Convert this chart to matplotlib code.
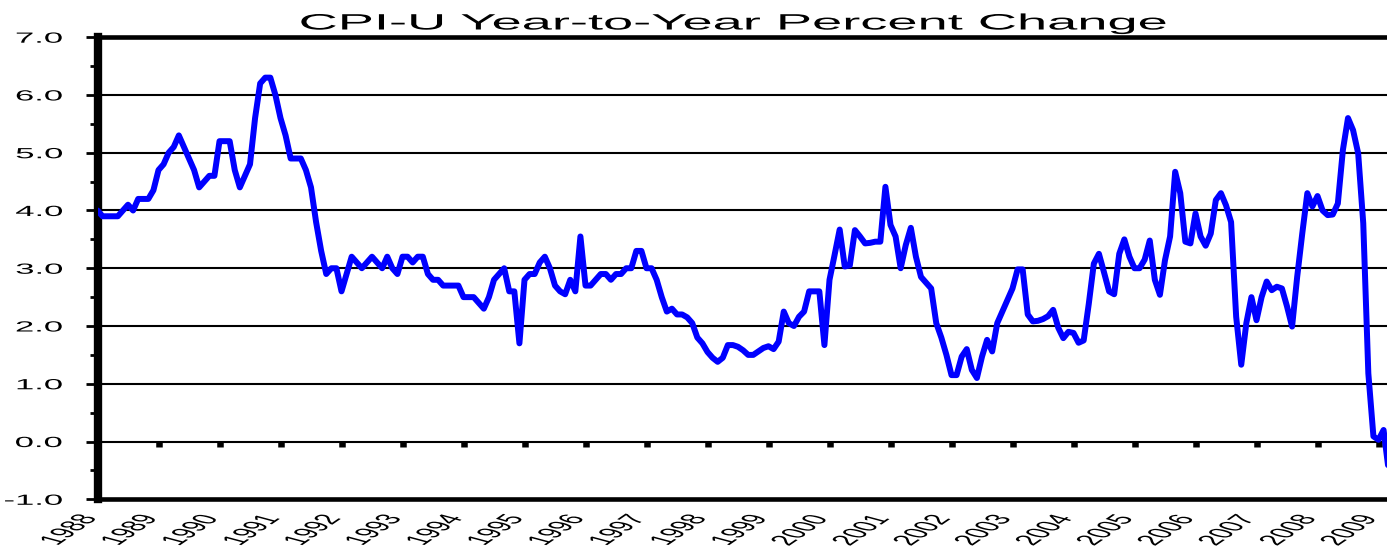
import numpy as np
import matplotlib
matplotlib.use("Agg")
import matplotlib.pyplot as plt
from matplotlib.patheffects import AbstractPathEffect
from matplotlib.transforms import Affine2D
from matplotlib.ticker import MultipleLocator

plt.rcParams['font.family'] = ['Liberation Sans', 'DejaVu Sans']

# ---- data: CPI-U year-to-year percent change, monthly from Jan 1988 ----
start_year = 1988
yoy_1988 = [4.0, 3.9, 3.9, 3.9, 3.9, 4.0, 4.1, 4.0, 4.2, 4.2, 4.2, 4.35]
yoy_1989 = [4.7, 4.8, 5.0, 5.1, 5.3, 5.1, 4.9, 4.7, 4.4, 4.5, 4.6, 4.6]
yoy_1990 = [5.2, 5.2, 5.2, 4.7, 4.4, 4.6, 4.8, 5.6, 6.2, 6.3, 6.3, 6.0]
yoy_1991 = [5.6, 5.3, 4.9, 4.9, 4.9, 4.7, 4.4, 3.8, 3.3, 2.9, 3.0, 3.0]
yoy_1992 = [2.6, 2.9, 3.2, 3.1, 3.0, 3.1, 3.2, 3.1, 3.0, 3.2, 3.0, 2.9]
yoy_1993 = [3.2, 3.2, 3.1, 3.2, 3.2, 2.9, 2.8, 2.8, 2.7, 2.7, 2.7, 2.7]
yoy_1994 = [2.5, 2.5, 2.5, 2.4, 2.3, 2.5, 2.8, 2.9, 3.0, 2.6, 2.6, 1.7]
yoy_1995 = [2.8, 2.9, 2.9, 3.1, 3.2, 3.0, 2.7, 2.6, 2.55, 2.8, 2.6, 3.55]
yoy_1996 = [2.7, 2.7, 2.8, 2.9, 2.9, 2.8, 2.9, 2.9, 3.0, 3.0, 3.3, 3.3]
yoy_1997 = [3.0, 3.0, 2.8, 2.5, 2.25, 2.3, 2.2, 2.2, 2.15, 2.05, 1.8, 1.7]
yoy_1998 = [1.55, 1.45, 1.38, 1.45, 1.67, 1.67, 1.64, 1.58, 1.5, 1.5, 1.56, 1.62]
yoy_1999 = [1.65, 1.6, 1.73, 2.25, 2.05, 2.0, 2.16, 2.25, 2.6, 2.6, 2.6, 1.67]
yoy_2000 = [2.8, 3.23, 3.67, 3.03, 3.05, 3.66, 3.55, 3.43, 3.44, 3.46, 3.46, 4.41]
yoy_2001 = [3.75, 3.55, 3.0, 3.4, 3.7, 3.2, 2.85, 2.75, 2.65, 2.05, 1.8, 1.5]
yoy_2002 = [1.15, 1.15, 1.47, 1.6, 1.24, 1.1, 1.47, 1.76, 1.56, 2.05, 2.25, 2.45]
yoy_2003 = [2.65, 2.98, 2.98, 2.2, 2.08, 2.09, 2.12, 2.17, 2.28, 1.97, 1.79, 1.9]
yoy_2004 = [1.88, 1.71, 1.75, 2.38, 3.08, 3.25, 2.93, 2.6, 2.55, 3.25, 3.5, 3.2]
yoy_2005 = [3.0, 3.0, 3.15, 3.48, 2.8, 2.54, 3.14, 3.55, 4.67, 4.3, 3.46, 3.43]
yoy_2006 = [3.95, 3.55, 3.39, 3.6, 4.18, 4.3, 4.09, 3.8, 2.16, 1.33, 2.05, 2.5]
yoy_2007 = [2.1, 2.5, 2.77, 2.62, 2.68, 2.65, 2.34, 1.99, 2.85, 3.6, 4.3, 4.07]
yoy_2008 = [4.25, 4.0, 3.92, 3.93, 4.12, 5.05, 5.6, 5.39, 4.99, 3.78, 1.18, 0.09]
yoy_2009 = [0.03, 0.2, -0.5]

year_labels = [str(y) for y in range(1988, 2010)]
y_major = [-1, 0, 1, 2, 3, 4, 5, 6, 7]
title_text = "CPI-U Year-to-Year Percent Change"

series = (yoy_1988 + yoy_1989 + yoy_1990 + yoy_1991 + yoy_1992 + yoy_1993 +
          yoy_1994 + yoy_1995 + yoy_1996 + yoy_1997 + yoy_1998 + yoy_1999 +
          yoy_2000 + yoy_2001 + yoy_2002 + yoy_2003 + yoy_2004 + yoy_2005 +
          yoy_2006 + yoy_2007 + yoy_2008 + yoy_2009)
months = start_year + np.arange(len(series)) / 12.0
years = [int(s) for s in year_labels]


class HorizontalStretch(AbstractPathEffect):
    """Draws a text widened horizontally about its own anchor point."""

    def __init__(self, text, factor, dx=0.0):
        super().__init__()
        self._text = text
        self._factor = factor
        self._dx = dx

    def draw_path(self, renderer, gc, tpath, affine, rgbFace=None):
        pos = self._text.get_unitless_position()
        x0 = self._text.get_transform().transform(pos)[0]
        widen = (Affine2D().translate(-x0, 0).scale(self._factor, 1.0)
                 .translate(x0 + self._dx, 0))
        renderer.draw_path(gc, tpath, affine + widen, rgbFace)


W, H = 1387, 550
fig = plt.figure(figsize=(W / 100, H / 100), dpi=100)
left_px, right_px, top_px, bottom_px = 97.5, 1387, 37.2, 499.3
ax = fig.add_axes([left_px / W, 1 - bottom_px / H,
                   (right_px - left_px) / W, (bottom_px - top_px) / H])

ax.plot(months, series, color='#0000FF', lw=4.3,
        solid_joinstyle='round', solid_capstyle='round', zorder=3)

px_per_year = 61.0
ax.set_xlim(1988, 1988 + (right_px - left_px) / px_per_year)
ax.set_ylim(-1, 7)

# horizontal grid
ax.set_yticks(y_major)
ax.yaxis.set_minor_locator(MultipleLocator(0.5))
ax.yaxis.grid(True, which='major', color='black', lw=1.5, zorder=1)
ax.set_axisbelow(True)
ax.set_yticklabels([f"{v:.1f}" for v in y_major])
ax.tick_params(axis='y', which='major', direction='out', length=8.3, width=2.0,
               pad=16.0, labelsize=10.6, colors='black')
ax.tick_params(axis='y', which='minor', direction='out', length=5.8, width=2.0,
               colors='black')

# frame
for side in ('top', 'bottom'):
    ax.spines[side].set_linewidth(3.3)
ax.spines['left'].set_linewidth(6.0)
ax.spines['right'].set_visible(False)

# year labels below the frame
ax.set_xticks(years)
ax.set_xticklabels(year_labels)
ax.tick_params(axis='x', which='both', length=0, pad=12, labelsize=10.6,
               labelrotation=58)
for lbl in ax.get_xticklabels():
    lbl.set_rotation_mode('anchor')
    lbl.set_ha('right')
    lbl.set_va('center')

# year tick marks sitting on the zero line
zero_frac = (0 - (-1)) / 8.0
sec = ax.secondary_xaxis(zero_frac)
sec.set_xticks(years)
sec.tick_params(axis='x', direction='out', length=3.4, width=4.7,
                labelbottom=False, labeltop=False, colors='black')
for sp in sec.spines.values():
    sp.set_visible(False)

title = ax.set_title(title_text, fontsize=16, pad=0,
                     x=(734 - left_px) / (right_px - left_px),
                     y=1 + (top_px - 29.5) / (bottom_px - top_px),
                     va='baseline', ha='center')

# widen all lettering
for lbl in ax.get_yticklabels():
    lbl.set_path_effects([HorizontalStretch(lbl, 2.35)])
for lbl in ax.get_xticklabels():
    lbl.set_path_effects([HorizontalStretch(lbl, 2.35, dx=-7.5)])
title.set_path_effects([HorizontalStretch(title, 2.44)])

fig.savefig("out.png", dpi=100, facecolor='white')
